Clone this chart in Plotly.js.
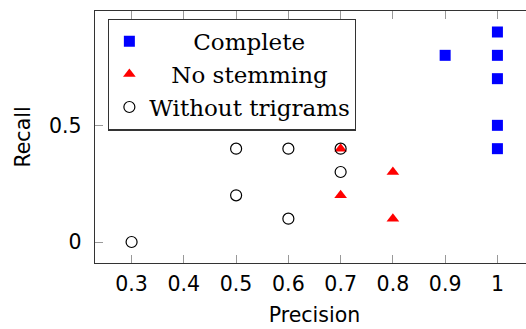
<!DOCTYPE html>
<html>
<head>
<meta charset="utf-8">
<script src="https://cdn.plot.ly/plotly-3.0.1.min.js"></script>
<style>
html, body { margin: 0; padding: 0; overflow: hidden; background: #fff; }
#chart { width: 540px; height: 329px; }
</style>
</head>
<body>
<div id="chart"></div>
<script>
// Data
const seriesNames = ["Complete", "No stemming", "Without trigrams"];
const completePrecision = [0.9, 1.0, 1.0, 1.0, 1.0, 1.0];
const completeRecall    = [0.8, 0.9, 0.8, 0.7, 0.5, 0.4];
const noStemPrecision   = [0.7, 0.8, 0.7, 0.8];
const noStemRecall      = [0.4, 0.3, 0.2, 0.1];
const noTriPrecision    = [0.3, 0.5, 0.6, 0.7, 0.7, 0.5, 0.6];
const noTriRecall       = [0.0, 0.4, 0.4, 0.4, 0.3, 0.2, 0.1];
const xTickVals = [0.3, 0.4, 0.5, 0.6, 0.7, 0.8, 0.9, 1.0];
const xTickText = ["0.3", "0.4", "0.5", "0.6", "0.7", "0.8", "0.9", "1"];
const yTickVals = [0, 0.5];
const yTickText = ["0", "0.5"];

const NB = "\u00a0";
const traces = [
  {
    x: completePrecision, y: completeRecall, name: NB.repeat(6) + seriesNames[0],
    type: "scatter", mode: "markers",
    marker: { symbol: "square", size: 11, color: "#0000ff", line: { width: 0 } }
  },
  {
    x: noStemPrecision, y: noStemRecall, name: NB.repeat(3) + seriesNames[1],
    type: "scatter", mode: "markers",
    marker: { symbol: "triangle-up", size: 11, color: "#ff0000", line: { width: 0 } }
  },
  {
    x: noTriPrecision, y: noTriRecall, name: seriesNames[2],
    type: "scatter", mode: "markers",
    marker: { symbol: "circle-open", size: 11, color: "#000000", line: { width: 1.2, color: "#000000" } }
  }
];

const tickFont = { family: "DejaVu Sans", size: 20.5, color: "#000" };

const layout = {
  width: 540, height: 329,
  margin: { l: 95, r: 6, t: 11, b: 66, pad: 0 },
  paper_bgcolor: "#fff", plot_bgcolor: "#fff",
  showlegend: true,
  legend: {
    x: 0.03, y: 0.97, xanchor: "left", yanchor: "top",
    bgcolor: "#fff", bordercolor: "#333", borderwidth: 1.2,
    font: { family: "DejaVu Serif", size: 23, color: "#000" },
    itemwidth: 30, tracegroupgap: 0
  },
  xaxis: {
    range: [0.23, 1.07], tickvals: xTickVals, ticktext: xTickText,
    ticks: "inside", ticklen: 8, tickwidth: 1, tickcolor: "#999",
    showline: true, linecolor: "#333", linewidth: 1.3, mirror: "ticks",
    showgrid: false, zeroline: false, tickfont: tickFont, ticklabelstandoff: 2,
    title: { text: "Precision", font: tickFont, standoff: 12 }
  },
  yaxis: {
    range: [-0.09, 0.99], tickvals: yTickVals, ticktext: yTickText,
    ticks: "inside", ticklen: 8, tickwidth: 1, tickcolor: "#999",
    showline: true, linecolor: "#333", linewidth: 1.3, mirror: "ticks",
    showgrid: false, zeroline: false, tickfont: tickFont, ticklabelstandoff: 8,
    title: { text: "Recall", font: tickFont, standoff: 12 }
  }
};

Plotly.newPlot("chart", traces, layout, { displayModeBar: false, staticPlot: true });
</script>
</body>
</html>
